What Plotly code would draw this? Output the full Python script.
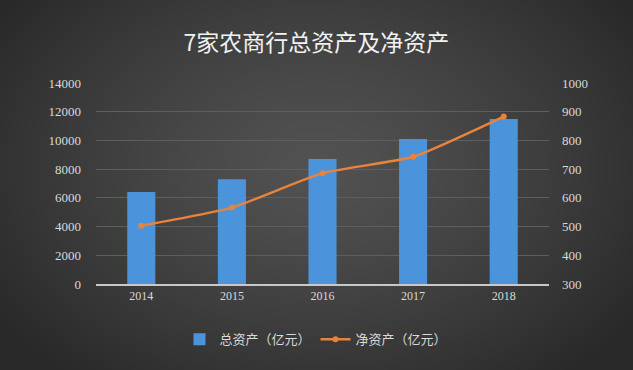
import base64, struct, zlib
import numpy as np
import plotly.graph_objects as go

years = ["2014", "2015", "2016", "2017", "2018"]
total_assets = [6400, 7300, 8700, 10100, 11500]
net_assets = [503, 566, 686, 743, 883]
left_ticks = [0, 2000, 4000, 6000, 8000, 10000, 12000, 14000]
right_ticks = [300, 400, 500, 600, 700, 800, 900, 1000]

W, H = 633, 370
ML, MR, MT, MB = 96, 84, 83, 86
PW, PH = W - ML - MR, H - MT - MB


def radial_png(w, h):
    yy, xx = np.mgrid[0:h, 0:w]
    cx, cy = w * 0.5, h * 0.45
    d = np.sqrt(((xx - cx) / (w * 0.62)) ** 2 + ((yy - cy) / (h * 0.75)) ** 2)
    d = np.clip(d, 0, 1)
    v = (82 - (82 - 40) * d ** 1.3).astype(np.uint8)
    raw = b"".join(b"\x00" + v[r].tobytes() for r in range(h))

    def chunk(t, data):
        c = struct.pack(">I", len(data)) + t + data
        return c + struct.pack(">I", zlib.crc32(t + data) & 0xFFFFFFFF)

    png = b"\x89PNG\r\n\x1a\n"
    png += chunk(b"IHDR", struct.pack(">IIBBBBB", w, h, 8, 0, 0, 0, 0))
    png += chunk(b"IDAT", zlib.compress(raw, 9))
    png += chunk(b"IEND", b"")
    return "data:image/png;base64," + base64.b64encode(png).decode()


serif = "Liberation Serif, Times New Roman, serif"
cjk = "Noto Sans CJK SC"

fig = go.Figure()
fig.add_trace(go.Bar(
    x=years, y=total_assets, name="总资产（亿元）",
    marker=dict(color="#4b94dc", line=dict(width=0)),
    yaxis="y",
))
fig.add_trace(go.Scatter(
    x=years, y=net_assets, name="净资产（亿元）",
    mode="lines+markers",
    line=dict(color="#e8833d", width=2.5, shape="spline", smoothing=0.5),
    marker=dict(color="#e8833d", size=6),
    yaxis="y2",
))

fig.update_layout(
    width=W, height=H,
    paper_bgcolor="#3c3c3c",
    plot_bgcolor="rgba(0,0,0,0)",
    margin=dict(l=ML, r=MR, t=MT, b=MB),
    images=[dict(source=radial_png(W, H), xref="paper", yref="paper",
                 x=-ML / PW, y=1 + MT / PH, sizex=W / PW, sizey=H / PH,
                 xanchor="left", yanchor="top", sizing="stretch", layer="below")],
    title=dict(text="7家农商行总资产及净资产", x=0.5, xanchor="center",
               y=1 - 43 / H, yanchor="middle",
               font=dict(family=cjk, size=23, color="#f2f2f2")),
    bargap=0.69,
    showlegend=True,
    legend=dict(orientation="h", x=(316 - ML) / PW, xanchor="center",
                y=-0.2, yanchor="top", itemwidth=30,
                font=dict(family=cjk, size=13, color="#d9d9d9"),
                bgcolor="rgba(0,0,0,0)"),
    xaxis=dict(
        tickfont=dict(family=serif, size=12, color="#d9d9d9"),
        showgrid=False, showline=True, linecolor="#c8c8c8", linewidth=1.5,
        ticks="", zeroline=False,
    ),
    yaxis=dict(
        range=[0, 14000], tickvals=left_ticks, ticktext=[str(v) for v in left_ticks],
        tickfont=dict(family=serif, size=13, color="#d9d9d9"),
        showgrid=True, gridcolor="#5e5e5e", gridwidth=1,
        zeroline=False, showline=False, ticks="", ticklabelstandoff=14,
    ),
    yaxis2=dict(
        range=[300, 1000], tickvals=right_ticks, ticktext=[str(v) for v in right_ticks],
        overlaying="y", side="right",
        tickfont=dict(family=serif, size=13, color="#d9d9d9"),
        showgrid=False, zeroline=False, showline=False, ticks="", ticklabelstandoff=12,
    ),
)

fig.write_html("out.html", config={"displayModeBar": False},
               post_script="document.body.style.margin='0';document.body.style.overflow='hidden';")
